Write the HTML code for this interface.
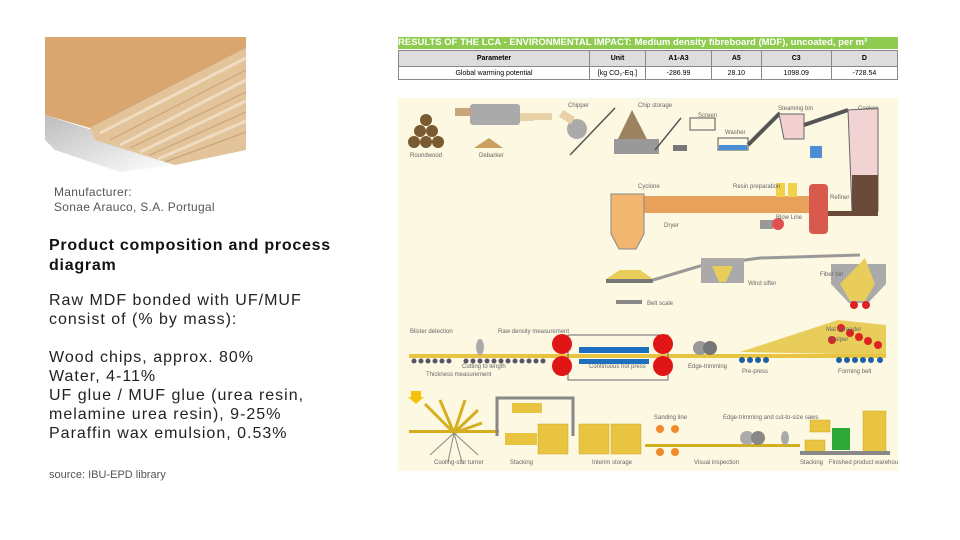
<!DOCTYPE html>
<html><head><meta charset="utf-8"><style>
body{margin:0;width:960px;height:540px;background:#fff;position:relative;overflow:hidden;font-family:"Liberation Sans",sans-serif}
.t{position:absolute;white-space:nowrap;color:#222}
.s{font-size:12px;color:#555;letter-spacing:0.3px}
.h{font-size:16px;font-weight:bold;color:#111;letter-spacing:0.75px}
.b{font-size:16px;color:#222;letter-spacing:1px;line-height:19px}
table{position:absolute;left:398px;top:50px;width:500px;border-collapse:collapse;font-size:7px;text-align:center}
td,th{border:1px solid #888;padding:0;height:12px}
th{background:#ddd;font-weight:bold;height:15px}
.tl{font-size:6px;fill:#666;font-family:"Liberation Sans",sans-serif}
</style></head><body>
<svg style="position:absolute;left:0;top:0" width="260" height="175">
<defs><linearGradient id="sh" x1="0" y1="0" x2="1" y2="1"><stop offset="0" stop-color="#bdbdbd"/><stop offset="1" stop-color="#fff"/></linearGradient></defs>
<polygon points="45,115 92,130 175,165 120,172 55,150 45,140" fill="url(#sh)"/>
<polygon points="90,128 246,48 246,150 175,165 95,140" fill="#e2c39a"/>
<g stroke="#c9a67a" stroke-width="1.2" fill="none">
<line x1="110" y1="140" x2="246" y2="70"/><line x1="130" y1="148" x2="246" y2="92"/><line x1="150" y1="155" x2="246" y2="112"/><line x1="165" y1="162" x2="246" y2="132"/></g>
<g stroke="#f0dcc0" stroke-width="3" fill="none">
<line x1="100" y1="133" x2="246" y2="58"/><line x1="120" y1="145" x2="246" y2="80"/><line x1="140" y1="152" x2="246" y2="101"/><line x1="158" y1="159" x2="246" y2="121"/></g>
<polygon points="45,37 246,37 246,48 90,128 45,115" fill="#d9a66f"/>
</svg>
<div class="t s" style="left:54px;top:185px">Manufacturer:</div>
<div class="t s" style="left:54px;top:200px">Sonae Arauco, S.A. Portugal</div>
<div class="t h" style="left:49px;top:237px">Product composition and process</div>
<div class="t h" style="left:49px;top:257px">diagram</div>
<div class="t b" style="left:49px;top:291px">Raw MDF bonded with UF/MUF<br>consist of (% by mass):<br><br>Wood chips, approx. 80%<br>Water, 4-11%<br>UF glue / MUF glue (urea resin,<br>melamine urea resin), 9-25%<br>Paraffin wax emulsion, 0.53%</div>
<div class="t" style="left:49px;top:469px;font-size:11px;color:#555">source: IBU-EPD library</div>
<div style="position:absolute;left:398px;top:37px;width:500px;height:12px;background:#8ecb4f;color:#fff;font-size:9.5px;font-weight:bold;line-height:12px;white-space:nowrap;overflow:hidden">RESULTS OF THE LCA - ENVIRONMENTAL IMPACT: Medium density fibreboard (MDF), uncoated, per m³</div>
<table><tr><th style="width:190px">Parameter</th><th style="width:55px">Unit</th><th>A1-A3</th><th>A5</th><th>C3</th><th>D</th></tr>
<tr><td>Global warming potential</td><td>[kg CO₂-Eq.]</td><td>-286.99</td><td>28.10</td><td>1098.09</td><td>-728.54</td></tr></table>
<svg style="position:absolute;left:398px;top:98px" width="500" height="373" viewBox="398 98 500 373">
<rect x="398" y="98" width="500" height="373" fill="#fdf8e2"/>
<g fill="#7a5a30"><circle cx="426" cy="120" r="6"/><circle cx="420" cy="131" r="6"/><circle cx="432" cy="131" r="6"/><circle cx="414" cy="142" r="6"/><circle cx="426" cy="142" r="6"/><circle cx="438" cy="142" r="6"/></g>
<rect x="470" y="104" width="50" height="21" fill="#aaa" rx="3"/><rect x="455" y="108" width="16" height="8" fill="#c8a57a"/><rect x="520" y="113" width="14" height="8" fill="#e8d1a6"/><rect x="532" y="113" width="20" height="7" fill="#e8d1a6"/>
<polygon points="474,148 489,138 503,148" fill="#c9a060"/>
<circle cx="577" cy="129" r="10" fill="#aaa"/><rect x="560" y="113" width="14" height="8" fill="#e8d1a6" transform="rotate(30 567 117)"/>
<line x1="570" y1="155" x2="615" y2="108" stroke="#555" stroke-width="1.5"/>
<polygon points="616,143 632,110 649,143" fill="#9c8360"/><rect x="614" y="139" width="45" height="15" fill="#999"/>
<line x1="655" y1="150" x2="681" y2="118" stroke="#555" stroke-width="1.5"/>
<rect x="673" y="145" width="14" height="6" fill="#777"/><rect x="690" y="118" width="25" height="12" fill="none" stroke="#555"/>
<rect x="718" y="138" width="30" height="12" fill="none" stroke="#555"/><rect x="719" y="145" width="28" height="5" fill="#4a8fd6"/>
<line x1="748" y1="145" x2="780" y2="113" stroke="#555" stroke-width="4"/>
<polygon points="779,114 804,114 804,139 784,139" fill="#f2d0d0" stroke="#666"/>
<line x1="804" y1="125" x2="848" y2="110" stroke="#555" stroke-width="4"/>
<rect x="810" y="146" width="12" height="12" fill="#4a8fd6"/>
<polygon points="848,110 878,108 878,211 852,211" fill="#f1d3d3" stroke="#666"/><rect x="852" y="175" width="26" height="36" fill="#6b4a3a"/>
<rect x="643" y="196" width="168" height="17" fill="#e7a15a"/>
<polygon points="611,194 644,194 644,234 636,249 619,249 611,234" fill="#f2b670" stroke="#888"/>
<rect x="809" y="184" width="19" height="50" fill="#d75a4c" rx="4"/><rect x="828" y="211" width="50" height="5" fill="#6b4a3a"/>
<rect x="776" y="183" width="9" height="14" fill="#f0d24a"/><rect x="788" y="183" width="9" height="14" fill="#f0d24a"/>
<rect x="760" y="220" width="13" height="9" fill="#999"/><circle cx="778" cy="224" r="6" fill="#e05050"/>
<polygon points="606,279 620,270 640,270 653,279" fill="#e8cd5a"/><rect x="606" y="279" width="47" height="4" fill="#777"/><rect x="616" y="300" width="26" height="4" fill="#888"/>
<polyline points="653,280 700,266 760,258 860,255" fill="none" stroke="#999" stroke-width="3"/>
<rect x="701" y="258" width="43" height="25" fill="#aaa"/><polygon points="712,266 733,266 726,282 719,282" fill="#e8cd5a"/>
<polygon points="831,264 886,264 886,284 868,303 849,303 831,284" fill="#aaa"/><polygon points="840,284 865,258 875,284 865,301 850,301" fill="#e8cd5a"/>
<circle cx="854" cy="305" r="4" fill="#d22"/><circle cx="866" cy="305" r="4" fill="#d22"/>
<polygon points="740,352 838,320 886,325 886,355" fill="#e8cd5a"/>
<g fill="#d22"><circle cx="841" cy="328" r="4"/><circle cx="850" cy="333" r="4"/><circle cx="859" cy="337" r="4"/><circle cx="868" cy="341" r="4"/><circle cx="878" cy="345" r="4"/><circle cx="832" cy="340" r="4"/></g>
<rect x="409" y="354" width="477" height="4" fill="#e8c440"/>
<g fill="#556"><circle cx="414" cy="361" r="2.5"/><circle cx="421" cy="361" r="2.5"/><circle cx="428" cy="361" r="2.5"/><circle cx="435" cy="361" r="2.5"/><circle cx="442" cy="361" r="2.5"/><circle cx="449" cy="361" r="2.5"/><circle cx="466" cy="361" r="2.5"/><circle cx="473" cy="361" r="2.5"/><circle cx="480" cy="361" r="2.5"/><circle cx="487" cy="361" r="2.5"/><circle cx="494" cy="361" r="2.5"/><circle cx="501" cy="361" r="2.5"/><circle cx="508" cy="361" r="2.5"/><circle cx="515" cy="361" r="2.5"/><circle cx="522" cy="361" r="2.5"/><circle cx="529" cy="361" r="2.5"/><circle cx="536" cy="361" r="2.5"/><circle cx="543" cy="361" r="2.5"/></g>
<g fill="#1d5fa8"><circle cx="742" cy="360" r="3"/><circle cx="750" cy="360" r="3"/><circle cx="758" cy="360" r="3"/><circle cx="766" cy="360" r="3"/><circle cx="839" cy="360" r="3"/><circle cx="847" cy="360" r="3"/><circle cx="855" cy="360" r="3"/><circle cx="863" cy="360" r="3"/><circle cx="871" cy="360" r="3"/><circle cx="880" cy="360" r="3"/></g>
<rect x="568" y="335" width="100" height="45" fill="none" stroke="#666"/>
<rect x="579" y="347" width="70" height="6" fill="#1d6fc0"/><rect x="579" y="359" width="70" height="5" fill="#1d6fc0"/>
<circle cx="562" cy="344" r="10" fill="#e01515"/><circle cx="663" cy="344" r="10" fill="#e01515"/><circle cx="562" cy="366" r="10" fill="#e01515"/><circle cx="663" cy="366" r="10" fill="#e01515"/>
<circle cx="700" cy="348" r="7" fill="#999"/><circle cx="710" cy="348" r="7" fill="#777"/><ellipse cx="480" cy="347" rx="4" ry="8" fill="#aaa"/>
<polygon points="411,391 421,391 421,397 424,397 416,404 408,397 411,397" fill="#f4c20d"/>
<g stroke="#d4b020" stroke-width="3"><line x1="454" y1="433" x2="425" y2="404"/><line x1="454" y1="433" x2="440" y2="400"/><line x1="454" y1="433" x2="465" y2="400"/><line x1="454" y1="433" x2="478" y2="410"/><line x1="454" y1="433" x2="482" y2="423"/></g>
<g stroke="#888" stroke-width="1"><line x1="454" y1="433" x2="430" y2="455"/><line x1="454" y1="433" x2="448" y2="462"/><line x1="454" y1="433" x2="462" y2="462"/><line x1="454" y1="433" x2="478" y2="455"/></g>
<rect x="409" y="430" width="90" height="3" fill="#d4b020"/>
<polyline points="497,436 497,398 573,398 573,436" fill="none" stroke="#888" stroke-width="3"/>
<rect x="512" y="403" width="30" height="10" fill="#e8c440"/><rect x="505" y="433" width="32" height="12" fill="#e8c440"/>
<g fill="#e8c440" stroke="#c9a620" stroke-width="0.5"><rect x="538" y="424" width="30" height="30"/><rect x="579" y="424" width="30" height="30"/><rect x="611" y="424" width="30" height="30"/><rect x="863" y="411" width="23" height="43"/><rect x="810" y="420" width="20" height="12"/><rect x="805" y="440" width="20" height="12"/></g>
<rect x="645" y="444" width="155" height="3" fill="#d4b020"/><rect x="800" y="451" width="90" height="4" fill="#888"/>
<g fill="#f08a2a"><circle cx="660" cy="429" r="4"/><circle cx="675" cy="429" r="4"/><circle cx="660" cy="452" r="4"/><circle cx="675" cy="452" r="4"/></g>
<circle cx="747" cy="438" r="7" fill="#aaa"/><circle cx="758" cy="438" r="7" fill="#888"/><ellipse cx="785" cy="438" rx="4" ry="7" fill="#aaa"/>
<rect x="832" y="428" width="18" height="22" fill="#2fa83a"/>
<g class="tl"><text x="410" y="157">Roundwood</text><text x="479" y="157">Debarker</text><text x="568" y="107">Chipper</text><text x="638" y="107">Chip storage</text><text x="698" y="117">Screen</text><text x="725" y="134">Washer</text><text x="778" y="110">Steaming bin</text><text x="858" y="110">Cooker</text><text x="638" y="188">Cyclone</text><text x="733" y="188">Resin preparation</text><text x="830" y="199">Refiner</text><text x="776" y="219">Blow Line</text><text x="664" y="227">Dryer</text><text x="820" y="276">Fiber bin</text><text x="748" y="285">Wind sifter</text><text x="647" y="305">Belt scale</text><text x="410" y="333">Blister detection</text><text x="498" y="333">Raw density measurement</text><text x="826" y="331">Mat spreader</text><text x="828" y="341">Scalper</text><text x="462" y="368">Cutting to length</text><text x="426" y="376">Thickness measurement</text><text x="589" y="368">Continuous hot press</text><text x="688" y="368">Edge-trimming</text><text x="742" y="373">Pre-press</text><text x="838" y="373">Forming belt</text><text x="434" y="464">Cooling-star turner</text><text x="510" y="464">Stacking</text><text x="592" y="464">Interim storage</text><text x="654" y="419">Sanding line</text><text x="723" y="419">Edge-trimming and cut-to-size saws</text><text x="694" y="464">Visual inspection</text><text x="800" y="464">Stacking</text><text x="829" y="464">Finished product warehouse</text></g>
</svg>
</body></html>
